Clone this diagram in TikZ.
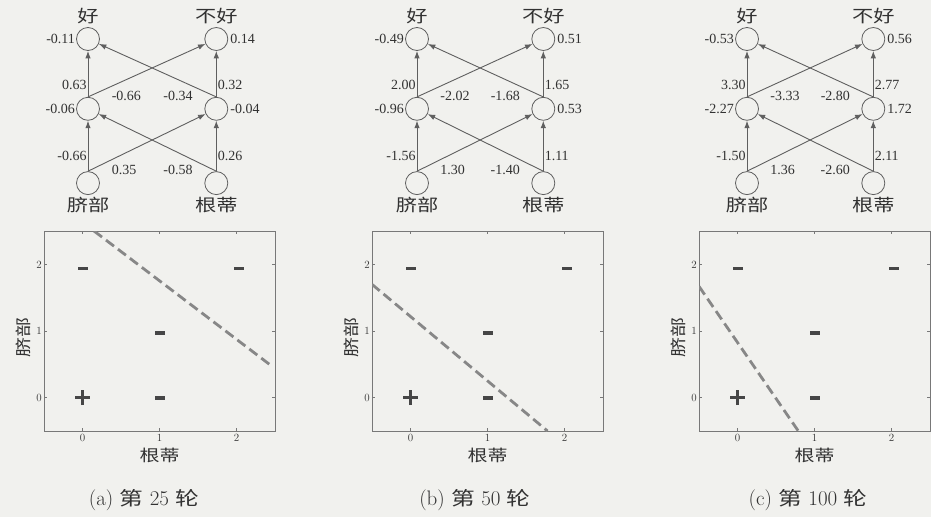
\documentclass[tikz,border=0pt]{standalone}
\usepackage{fontspec}
\usepackage{xcolor}
\usepackage{tikz}
\usetikzlibrary{positioning,arrows.meta}
\newfontfamily\cjk{Noto Sans CJK SC}[FakeStretch=1.25]
\newfontfamily\numfont{Liberation Serif}
\definecolor{wmpaper}{RGB}{241,241,238}
\definecolor{wmline}{RGB}{95,95,95}
\definecolor{wmtext}{RGB}{50,50,50}
\definecolor{wmframe}{RGB}{120,120,120}
\definecolor{wmdash}{RGB}{135,135,135}
\definecolor{wmmark}{RGB}{70,70,70}
\tikzset{
  unit/.style={circle, draw=wmline, line width=0.8pt, minimum size=23pt,
               inner sep=0pt},
  conn/.style={-{Latex[length=7.5pt,width=5.5pt]}, line width=0.9pt, color=wmline},
  wt/.style={font=\numfont\fontsize{14}{15}\selectfont, text=wmtext, inner sep=1pt},
  cls/.style={font=\cjk\fontsize{17}{18}\selectfont, text=wmtext, inner sep=1pt},
  axl/.style={font=\cjk\fontsize{16}{17}\selectfont, text=wmtext, inner sep=1pt},
  ticklbl/.style={font=\fontsize{11}{12}\selectfont, text=wmtext, inner sep=2pt},
  frame/.style={draw=wmframe, line width=0.8pt},
  sepline/.style={color=wmdash, line width=2.8pt, dash pattern=on 10pt off 5pt},
  negmark/.style={fill=wmmark},
  plusmark/.style={draw=wmmark, line width=2.6pt},
  captxt/.style={font=\fontsize{21}{23}\selectfont, text=wmtext},
}
\begin{document}
\begin{tikzpicture}[x=1pt, y=-1pt]
\fill[wmpaper] (0,0) rectangle (931,517);
\useasboundingbox (0,0) rectangle (931,517);

% (a) epoch 25
\begin{scope}
  \node[unit] (a-ol) at (88,39) {};
  \node[unit, right=104.5pt of a-ol] (a-or) {};
  \node[unit, below=46pt of a-ol] (a-hl) {};
  \node[unit, right=104.5pt of a-hl] (a-hr) {};
  \node[unit, below=50.5pt of a-hl] (a-il) {};
  \node[unit, right=104.5pt of a-il] (a-ir) {};
  \node[cls, above=2pt of a-ol] (a-good) {好};
  \node[cls, above=2pt of a-or] (a-bad) {不好};
  \node[cls, below=1pt of a-il] (a-navel) {脐部};
  \node[cls, below=1pt of a-ir] (a-root) {根蒂};
  \node[wt, left=0pt of a-ol] (a-olb) {-0.11};
  \node[wt, right=1pt of a-or] (a-orb) {0.14};
  \node[wt, left=0pt of a-hl] (a-hlb) {-0.06};
  \node[wt, right=1pt of a-hr] (a-hrb) {-0.04};
  \draw[conn] (a-hl) -- node[wt, pos=0.25, left] {0.63} (a-ol);
  \draw[conn] (a-hr) -- node[wt, pos=0.25, right] {0.32} (a-or);
  \draw[conn] (a-hl.north) -- node[wt, pos=0.19, anchor=north west, yshift=-3pt] {-0.66} (a-or);
  \draw[conn] (a-hr.north) -- node[wt, pos=0.19, anchor=north east, yshift=-3pt] {-0.34} (a-ol);
  \draw[conn] (a-il) -- node[wt, pos=0.3, left] {-0.66} (a-hl);
  \draw[conn] (a-ir) -- node[wt, pos=0.3, right] {0.26} (a-hr);
  \draw[conn] (a-il.north) -- node[wt, pos=0.19, anchor=north west, yshift=-3pt] {0.35} (a-hr);
  \draw[conn] (a-ir.north) -- node[wt, pos=0.19, anchor=north east, yshift=-3pt] {-0.58} (a-hl);
  \begin{scope}[shift={(82.5,397.7)}, x=77pt, y=66.67pt]
    \draw[frame] (-0.5,-0.5) rectangle (2.5,2.5);
    \foreach \t in {0,1,2} {
      \draw[frame] (\t,-0.5) -- ++(0,0.045) (\t,2.5) -- ++(0,-0.045)
                   (-0.5,\t) -- ++(0.04,0) (2.5,\t) -- ++(-0.04,0);
      \node[ticklbl, below=1pt] (a-xt\t) at (\t,-0.5) {\t};
      \node[ticklbl, left=0pt] (a-yt\t) at (-0.5,\t) {\t};
    }
    \begin{scope}
      \clip (-0.5,-0.5) rectangle (2.5,2.5);
      \draw[sepline] (0.15,2.5) -- (2.44,0.49);
    \end{scope}
    \fill[negmark] (0,1.94) +(-5pt,-1.8pt) rectangle +(5pt,1.8pt);
    \fill[negmark] (2.03,1.94) +(-5pt,-1.8pt) rectangle +(5pt,1.8pt);
    \fill[negmark] (1,0.97) +(-5pt,-1.8pt) rectangle +(5pt,1.8pt);
    \fill[negmark] (1,0) +(-5pt,-1.8pt) rectangle +(5pt,1.8pt);
    \draw[plusmark] (0,0) +(-7.5pt,0) -- +(7.5pt,0) +(0,-7.5pt) -- +(0,7.5pt);
    \node[axl] (a-xlab) at (1,-0.86) {根蒂};
    \node[axl, rotate=90] (a-ylab) at (-0.77,0.9) {脐部};
  \end{scope}
  \node[captxt] (a-cap) at (144,500) {(a) {\cjk\fontsize{19}{21}\selectfont 第} 25 {\cjk\fontsize{19}{21}\selectfont 轮}};
\end{scope}

% (b) epoch 50
\begin{scope}[xshift=328pt]
  \node[unit] (b-ol) at (89,39) {};
  \node[unit, right=102.5pt of b-ol] (b-or) {};
  \node[unit, below=46pt of b-ol] (b-hl) {};
  \node[unit, right=102.5pt of b-hl] (b-hr) {};
  \node[unit, below=50.5pt of b-hl] (b-il) {};
  \node[unit, right=102.5pt of b-il] (b-ir) {};
  \node[cls, above=2pt of b-ol] (b-good) {好};
  \node[cls, above=2pt of b-or] (b-bad) {不好};
  \node[cls, below=1pt of b-il] (b-navel) {脐部};
  \node[cls, below=1pt of b-ir] (b-root) {根蒂};
  \node[wt, left=0pt of b-ol] (b-olb) {-0.49};
  \node[wt, right=1pt of b-or] (b-orb) {0.51};
  \node[wt, left=0pt of b-hl] (b-hlb) {-0.96};
  \node[wt, right=1pt of b-hr] (b-hrb) {0.53};
  \draw[conn] (b-hl) -- node[wt, pos=0.25, left] {2.00} (b-ol);
  \draw[conn] (b-hr) -- node[wt, pos=0.25, right] {1.65} (b-or);
  \draw[conn] (b-hl.north) -- node[wt, pos=0.19, anchor=north west, yshift=-3pt] {-2.02} (b-or);
  \draw[conn] (b-hr.north) -- node[wt, pos=0.19, anchor=north east, yshift=-3pt] {-1.68} (b-ol);
  \draw[conn] (b-il) -- node[wt, pos=0.3, left] {-1.56} (b-hl);
  \draw[conn] (b-ir) -- node[wt, pos=0.3, right] {1.11} (b-hr);
  \draw[conn] (b-il.north) -- node[wt, pos=0.19, anchor=north west, yshift=-3pt] {1.30} (b-hr);
  \draw[conn] (b-ir.north) -- node[wt, pos=0.19, anchor=north east, yshift=-3pt] {-1.40} (b-hl);
  \begin{scope}[shift={(82.5,397.7)}, x=77pt, y=66.67pt]
    \draw[frame] (-0.5,-0.5) rectangle (2.5,2.5);
    \foreach \t in {0,1,2} {
      \draw[frame] (\t,-0.5) -- ++(0,0.045) (\t,2.5) -- ++(0,-0.045)
                   (-0.5,\t) -- ++(0.04,0) (2.5,\t) -- ++(-0.04,0);
      \node[ticklbl, below=1pt] (b-xt\t) at (\t,-0.5) {\t};
      \node[ticklbl, left=0pt] (b-yt\t) at (-0.5,\t) {\t};
    }
    \begin{scope}
      \clip (-0.5,-0.5) rectangle (2.5,2.5);
      \draw[sepline] (-0.5,1.70) -- (1.78,-0.5);
    \end{scope}
    \fill[negmark] (0,1.94) +(-5pt,-1.8pt) rectangle +(5pt,1.8pt);
    \fill[negmark] (2.03,1.94) +(-5pt,-1.8pt) rectangle +(5pt,1.8pt);
    \fill[negmark] (1,0.97) +(-5pt,-1.8pt) rectangle +(5pt,1.8pt);
    \fill[negmark] (1,0) +(-5pt,-1.8pt) rectangle +(5pt,1.8pt);
    \draw[plusmark] (0,0) +(-7.5pt,0) -- +(7.5pt,0) +(0,-7.5pt) -- +(0,7.5pt);
    \node[axl] (b-xlab) at (1,-0.86) {根蒂};
    \node[axl, rotate=90] (b-ylab) at (-0.77,0.9) {脐部};
  \end{scope}
  \node[captxt] (b-cap) at (147,500) {(b) {\cjk\fontsize{19}{21}\selectfont 第} 50 {\cjk\fontsize{19}{21}\selectfont 轮}};
\end{scope}

% (c) epoch 100
\begin{scope}[xshift=655pt]
  \node[unit] (c-ol) at (92,39) {};
  \node[unit, right=102.5pt of c-ol] (c-or) {};
  \node[unit, below=46pt of c-ol] (c-hl) {};
  \node[unit, right=102.5pt of c-hl] (c-hr) {};
  \node[unit, below=50.5pt of c-hl] (c-il) {};
  \node[unit, right=102.5pt of c-il] (c-ir) {};
  \node[cls, above=2pt of c-ol] (c-good) {好};
  \node[cls, above=2pt of c-or] (c-bad) {不好};
  \node[cls, below=1pt of c-il] (c-navel) {脐部};
  \node[cls, below=1pt of c-ir] (c-root) {根蒂};
  \node[wt, left=0pt of c-ol] (c-olb) {-0.53};
  \node[wt, right=1pt of c-or] (c-orb) {0.56};
  \node[wt, left=0pt of c-hl] (c-hlb) {-2.27};
  \node[wt, right=1pt of c-hr] (c-hrb) {1.72};
  \draw[conn] (c-hl) -- node[wt, pos=0.25, left] {3.30} (c-ol);
  \draw[conn] (c-hr) -- node[wt, pos=0.25, right] {2.77} (c-or);
  \draw[conn] (c-hl.north) -- node[wt, pos=0.19, anchor=north west, yshift=-3pt] {-3.33} (c-or);
  \draw[conn] (c-hr.north) -- node[wt, pos=0.19, anchor=north east, yshift=-3pt] {-2.80} (c-ol);
  \draw[conn] (c-il) -- node[wt, pos=0.3, left] {-1.50} (c-hl);
  \draw[conn] (c-ir) -- node[wt, pos=0.3, right] {2.11} (c-hr);
  \draw[conn] (c-il.north) -- node[wt, pos=0.19, anchor=north west, yshift=-3pt] {1.36} (c-hr);
  \draw[conn] (c-ir.north) -- node[wt, pos=0.19, anchor=north east, yshift=-3pt] {-2.60} (c-hl);
  \begin{scope}[shift={(82.5,397.7)}, x=77pt, y=66.67pt]
    \draw[frame] (-0.5,-0.5) rectangle (2.5,2.5);
    \foreach \t in {0,1,2} {
      \draw[frame] (\t,-0.5) -- ++(0,0.045) (\t,2.5) -- ++(0,-0.045)
                   (-0.5,\t) -- ++(0.04,0) (2.5,\t) -- ++(-0.04,0);
      \node[ticklbl, below=1pt] (c-xt\t) at (\t,-0.5) {\t};
      \node[ticklbl, left=0pt] (c-yt\t) at (-0.5,\t) {\t};
    }
    \begin{scope}
      \clip (-0.5,-0.5) rectangle (2.5,2.5);
      \draw[sepline] (-0.5,1.67) -- (0.79,-0.5);
    \end{scope}
    \fill[negmark] (0,1.94) +(-5pt,-1.8pt) rectangle +(5pt,1.8pt);
    \fill[negmark] (2.03,1.94) +(-5pt,-1.8pt) rectangle +(5pt,1.8pt);
    \fill[negmark] (1,0.97) +(-5pt,-1.8pt) rectangle +(5pt,1.8pt);
    \fill[negmark] (1,0) +(-5pt,-1.8pt) rectangle +(5pt,1.8pt);
    \draw[plusmark] (0,0) +(-7.5pt,0) -- +(7.5pt,0) +(0,-7.5pt) -- +(0,7.5pt);
    \node[axl] (c-xlab) at (1,-0.86) {根蒂};
    \node[axl, rotate=90] (c-ylab) at (-0.77,0.9) {脐部};
  \end{scope}
  \node[captxt] (c-cap) at (153,500) {(c) {\cjk\fontsize{19}{21}\selectfont 第} 100 {\cjk\fontsize{19}{21}\selectfont 轮}};
\end{scope}
\end{tikzpicture}
\end{document}
